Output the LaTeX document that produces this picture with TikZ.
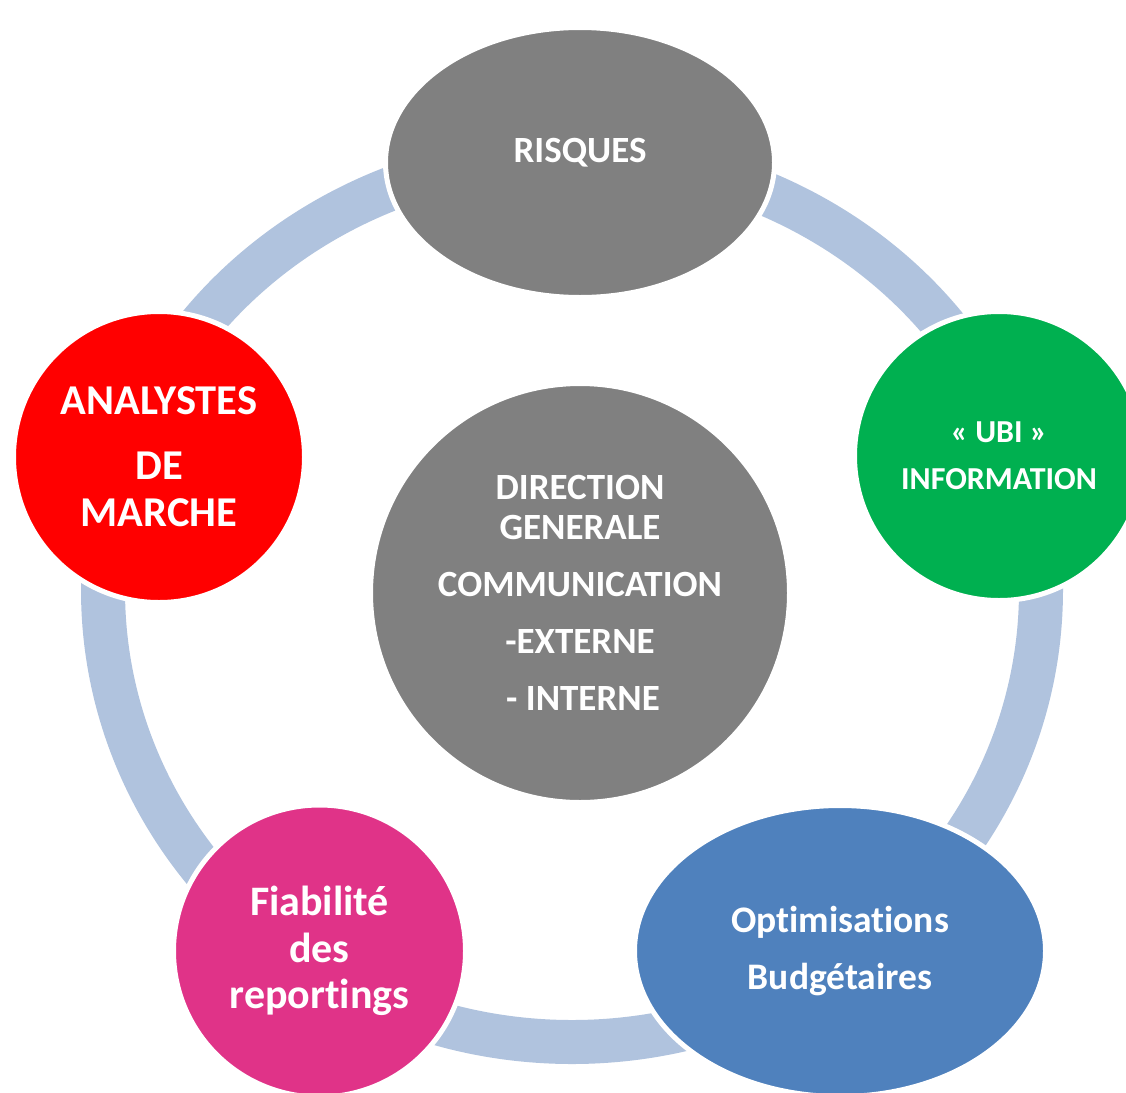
\documentclass[tikz,border=0pt]{standalone}
\usepackage{fontspec}
\setmainfont{Carlito}[Ligatures={NoCommon,NoContextual}]
\usetikzlibrary{shapes.geometric}
\definecolor{ringc}{HTML}{B0C3DE}
\definecolor{grayc}{HTML}{808080}
\definecolor{greenc}{HTML}{00B050}
\definecolor{redc}{HTML}{FF0000}
\definecolor{pinkc}{HTML}{E03388}
\definecolor{bluec}{HTML}{4F81BD}
\begin{document}
\begin{tikzpicture}[x=1pt,y=-1pt,
  shp/.style={draw=white, line width=5pt, inner sep=0pt, text=white, align=center},
  ringline/.style={draw=ringc, line width=44pt}]
\useasboundingbox (0,0) rectangle (1126,1092);
\clip (0,0) rectangle (1126,1092);
% ring
\draw[ringline] (103,590) arc[start angle=180, end angle=0, x radius=469, y radius=452]
   arc[start angle=0, end angle=-180, x radius=469, y radius=435] -- cycle;
% centre
\node[shp, circle, fill=grayc, minimum size=419pt,
  font=\bfseries\fontsize{37}{40}\selectfont] (dg) at (580,593)
  {DIRECTION\\GENERALE\\[17pt]COMMUNICATION\\[17pt]-EXTERNE\\[17pt]\hspace*{6pt}- INTERNE};
% top
\node[shp, ellipse, fill=grayc, minimum width=389pt, minimum height=270pt,
  font=\bfseries\fontsize{37}{44}\selectfont, text height=24pt, text depth=24pt] (ri) at (580,162.5) {RISQUES};
% right
\node[shp, circle, fill=greenc, minimum size=289pt,
  font=\bfseries\fontsize{32}{47}\selectfont] (ubi) at (999,456) {« UBI »\\INFORMATION};
% bottom right
\node[shp, ellipse, fill=bluec, minimum width=411pt, minimum height=291pt,
  font=\bfseries\fontsize{37.5}{57}\selectfont] (ob) at (840,951) {Opt\kern0pt imisat\kern0pt ions\\Budgétaires};
% bottom left
\node[shp, circle, fill=pinkc, minimum size=292pt,
  font=\bfseries\fontsize{42}{46.5}\selectfont] (fr) at (319.5,951) {Fiabilité\\des\\report\kern0pt ings};
% left
\node[shp, circle, fill=redc, minimum size=291pt,
  font=\bfseries\fontsize{42.5}{47}\selectfont] (am) at (159,457) {ANALYSTES\\[18pt]DE\\MARCHE};
\end{tikzpicture}
\end{document}
